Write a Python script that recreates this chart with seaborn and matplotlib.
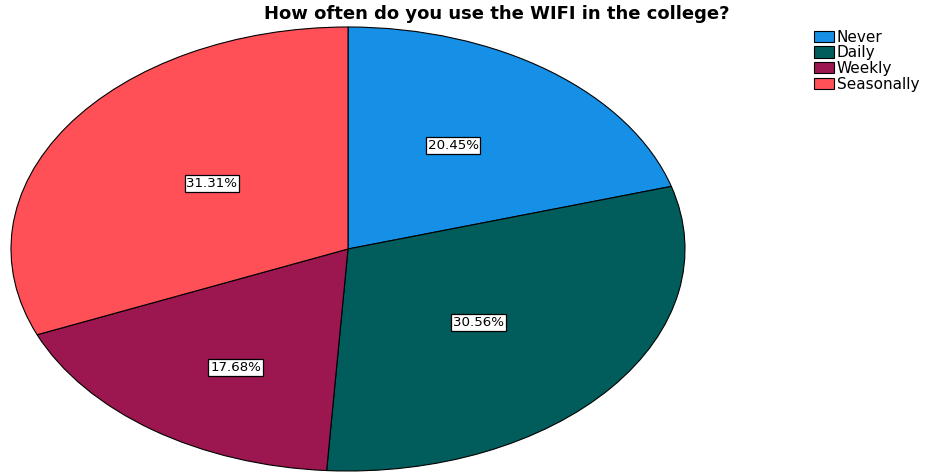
import matplotlib
matplotlib.use("Agg")
import numpy as np
import matplotlib.pyplot as plt
import seaborn as sns
from matplotlib.patches import Patch

sns.set_theme(style="white")
plt.rcParams['font.family'] = ['DejaVu Sans']
plt.rcParams['text.color'] = 'black'

categories = ["Never", "Daily", "Weekly", "Seasonally"]
percentages = [20.45, 30.56, 17.68, 31.31]
colors = ["#1590E6", "#015D5C", "#9C1750", "#FF4F57"]
# placement of each percentage label: fraction of the radius, angular nudge in degrees
label_radii = [0.56, 0.51, 0.63, 0.50]
label_nudges = [3.0, -2.0, 3.5, -2.5]

fig = plt.figure(figsize=(9.30, 4.73), dpi=100)
fig.patch.set_facecolor("white")
ax = fig.add_axes([11 / 930, 2 / 473, 674 / 930, 444 / 473])

wedges, texts, autotexts = ax.pie(
    percentages,
    colors=colors,
    startangle=90,
    counterclock=False,
    autopct=lambda p: f"{p:.2f}%",
    pctdistance=0.55,
    wedgeprops=dict(edgecolor="black", linewidth=0.8),
    textprops=dict(fontsize=9.6, color="black"),
)
for w, t, r, d in zip(wedges, autotexts, label_radii, label_nudges):
    mid = np.deg2rad((w.theta1 + w.theta2) / 2 + d)
    t.set_position((r * np.cos(mid), r * np.sin(mid)))
    t.set_bbox(dict(facecolor="white", edgecolor="black", linewidth=0.9, pad=1.3))

ax.set_aspect("auto")
ax.set_xlim(-1, 1)
ax.set_ylim(-1, 1)
ax.axis("off")

fig.text(497 / 930, 1 - 14 / 473, "How often do you use the WIFI in the college?",
         ha="center", va="center", fontsize=13, fontweight="bold", color="black")

handles = [Patch(facecolor=c, edgecolor="black", linewidth=0.8) for c in colors]
leg = fig.legend(handles, categories, loc="upper left", bbox_to_anchor=(806 / 930, 1 - 22 / 473),
                 frameon=False, fontsize=11, handlelength=1.3, handleheight=0.75,
                 handletextpad=0.2, labelspacing=0.05, borderpad=0)
for txt in leg.get_texts():
    txt.set_color("black")

fig.savefig("out.png", dpi=100, facecolor="white")
